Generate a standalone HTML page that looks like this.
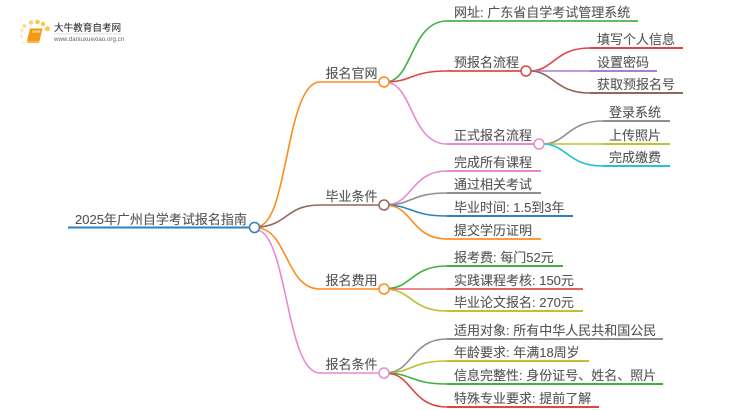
<!DOCTYPE html>
<html><head><meta charset="utf-8"><style>
html,body{margin:0;padding:0;background:#fff;width:750px;height:410px;overflow:hidden}
svg{display:block}
text{font-family:"Liberation Sans","Noto Sans CJK SC",sans-serif;font-size:13px;fill:#555;stroke:#555;stroke-width:.12}
path{fill:none;stroke-width:1.6}
.l{stroke-width:2}
circle{fill:#fff;stroke-width:1.5}
</style></head><body>
<svg width="750" height="410" viewBox="0 0 750 410" xmlns="http://www.w3.org/2000/svg">
<!-- logo -->
<g>
<circle cx="24.500" cy="26" r="2" style="fill:#fddc8c;stroke:none"/><circle cx="31" cy="22.500" r="2.200" style="fill:#fcd06a;stroke:none"/><circle cx="37.500" cy="22" r="2.300" style="fill:#fcc950;stroke:none"/><circle cx="43" cy="24" r="2.300" style="fill:#fcc950;stroke:none"/><circle cx="47.500" cy="28.800" r="2.500" style="fill:#fcc950;stroke:none"/><circle cx="22" cy="30.500" r="1.700" style="fill:#fee6b0;stroke:none"/><circle cx="21.500" cy="36.500" r="1.500" style="fill:#fee6b0;stroke:none"/><circle cx="23.500" cy="42.500" r="1.300" style="fill:#feeecb;stroke:none"/>
<polygon points="30,28.500 42.500,28.500 39.500,41 27,41" style="fill:#f59a12"/>
<polygon points="27,41 39.500,41 39,43 27.500,43" style="fill:#f8b654"/>
<polygon points="32.500,30.500 40.500,30.500 40,32.800 32,32.800" style="fill:#fcd27c"/>
</g>
<text x="54" y="31" style="font-size:9.6px;fill:#333;stroke:#333;stroke-width:.1">大牛教育自考网</text>
<rect x="54" y="33.500" width="67" height="0.8" fill="#d8d8d8"/>
<text x="54" y="41" style="font-size:6.200px;fill:#666;stroke:none">www.daniuxuexiao.org.cn</text>

<!-- root -->
<path class="l" stroke="#2f7fc1" d="M68 227.500H254"/>
<path stroke="#ff8a1f" d="M259 226C288 222 286 82 320 82H384"/>
<path stroke="#96655a" d="M259 227C288 225 286 205 320 205H384"/>
<path stroke="#ff8a1f" d="M259 228C288 232 286 289 320 289H384"/>
<path stroke="#e78ad2" d="M258 230C288 238 286 373 320 373H384"/>

<!-- branch 1 -->
<path stroke="#3fb13f" d="M389 81.500C412 78 412 21 447 21"/><path class="l" stroke="#5fbc5f" d="M447 21H638"/>
<path stroke="#e04545" d="M389 82C412 81 412 71 447 71"/><path class="l" stroke="#e46262" d="M447 71H526"/>
<path stroke="#e78ad2" d="M389 83C412 86 412 144 447 144"/><path class="l" stroke="#e78ad2" d="M447 144H539"/>

<path stroke="#e04545" d="M531 71C554 70 555 48 590 48"/><path class="l" stroke="#e04545" d="M590 48H683"/>
<path stroke="#a97fd0" d="M531 71H590"/><path class="l" stroke="#a97fd0" d="M590 71H657"/>
<path stroke="#96655a" d="M531 71C554 72 555 93 590 93"/><path class="l" stroke="#96655a" d="M590 93H683"/>

<path stroke="#8f8f8f" d="M544 144C567 143 568 121 603 121"/><path class="l" stroke="#8f8f8f" d="M603 121H670"/>
<path stroke="#bfc12f" d="M544 144H603"/><path class="l" stroke="#bfc12f" d="M603 144H670"/>
<path stroke="#22c3d8" d="M544 144C567 145 568 166 603 166"/><path class="l" stroke="#22c3d8" d="M603 166H670"/>

<!-- branch 2 -->
<path stroke="#e78ad2" d="M389 204.500C412 203 412 171 447 171"/><path class="l" stroke="#e78ad2" d="M447 171H541"/>
<path stroke="#8f8f8f" d="M389 205C412 204 412 193 447 193"/><path class="l" stroke="#8f8f8f" d="M447 193H541"/>
<path stroke="#2f7fc1" d="M389 205C412 206 412 216 447 216"/><path class="l" stroke="#2f7fc1" d="M447 216H573"/>
<path stroke="#ff8a1f" d="M389 205.500C412 207 412 239 447 239"/><path class="l" stroke="#ff9a3f" d="M447 239H541"/>

<!-- branch 3 -->
<path stroke="#3fb13f" d="M389 288.500C412 287 412 266 447 266"/><path class="l" stroke="#3fb13f" d="M447 266H563"/>
<path stroke="#e46262" d="M389 289H447"/><path class="l" stroke="#e46262" d="M447 289H583"/>
<path stroke="#bfc12f" d="M389 289.500C412 291 412 311 447 311"/><path class="l" stroke="#bfc12f" d="M447 311H583"/>

<!-- branch 4 -->
<path stroke="#8f8f8f" d="M389 372.500C412 371 412 339 447 339"/><path class="l" stroke="#8f8f8f" d="M447 339H663"/>
<path stroke="#bfc12f" d="M389 373C412 372 412 361 447 361"/><path class="l" stroke="#bfc12f" d="M447 361H589"/>
<path stroke="#3fb13f" d="M389 373C412 374 412 384 447 384"/><path class="l" stroke="#3fb13f" d="M447 384H663"/>
<path stroke="#e04545" d="M389 373.500C412 375 412 407 447 407"/><path class="l" stroke="#e04545" d="M447 407H599"/>

<!-- nodes -->
<circle cx="254.500" cy="227.500" r="5" stroke="#2f7fc1"/>
<circle cx="384" cy="82" r="5" stroke="#ff8a1f"/>
<circle cx="384" cy="205" r="5" stroke="#96655a"/>
<circle cx="384" cy="289" r="5" stroke="#ff8a1f"/>
<circle cx="384" cy="373" r="5" stroke="#e78ad2"/>
<circle cx="526" cy="71" r="5" stroke="#e04545"/>
<circle cx="539" cy="144" r="5" stroke="#e78ad2"/>

<!-- labels -->
<text x="75" y="224">2025年广州自学考试报名指南</text>
<text x="325.500" y="78">报名官网</text>
<text x="325.500" y="201">毕业条件</text>
<text x="325.500" y="285">报名费用</text>
<text x="325.500" y="369">报名条件</text>
<text x="454" y="17">网址: 广东省自学考试管理系统</text>
<text x="454" y="67">预报名流程</text>
<text x="454" y="140">正式报名流程</text>
<text x="597" y="44">填写个人信息</text>
<text x="597" y="67">设置密码</text>
<text x="597" y="89">获取预报名号</text>
<text x="609" y="117">登录系统</text>
<text x="609" y="140">上传照片</text>
<text x="609" y="162">完成缴费</text>
<text x="454" y="167">完成所有课程</text>
<text x="454" y="189">通过相关考试</text>
<text x="454" y="212">毕业时间: 1.5到3年</text>
<text x="454" y="235">提交学历证明</text>
<text x="454" y="262">报考费: 每门52元</text>
<text x="454" y="285">实践课程考核: 150元</text>
<text x="454" y="307">毕业论文报名: 270元</text>
<text x="454" y="335">适用对象: 所有中华人民共和国公民</text>
<text x="454" y="357">年龄要求: 年满18周岁</text>
<text x="454" y="380">信息完整性: 身份证号、姓名、照片</text>
<text x="454" y="403">特殊专业要求: 提前了解</text>
</svg>
</body></html>
